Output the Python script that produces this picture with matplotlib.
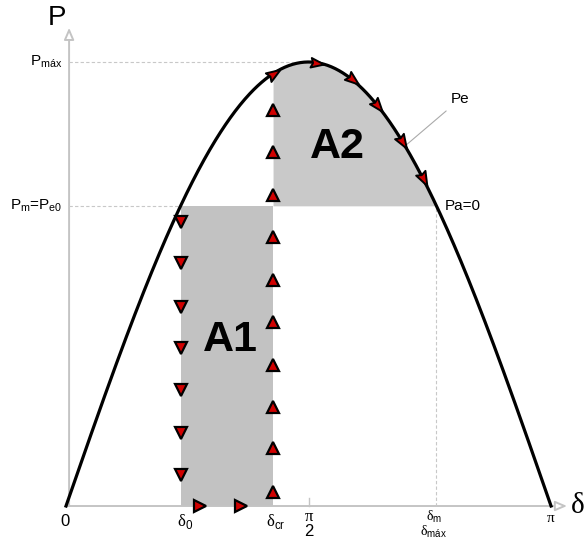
import numpy as np
import matplotlib
matplotlib.use("Agg")
import matplotlib.pyplot as plt

plt.rcParams["font.family"] = ["Liberation Sans", "DejaVu Sans"]
plt.rcParams["mathtext.fontset"] = "custom"
plt.rcParams["mathtext.rm"] = "Liberation Serif"
plt.rcParams["mathtext.sf"] = "Liberation Sans"

# Power-angle characteristic, per unit of P_max
p_max = 1.0
p_m = 0.676
delta_cr = 1.341

# Rotor swing trajectory markers
fall_p = [0.640, 0.547, 0.448, 0.356, 0.261, 0.164, 0.070]          # at delta_0, power drops
accel_delta = [0.868, 1.133]                                         # along P = 0 during the fault
rise_p = [0.032, 0.131, 0.223, 0.318, 0.414, 0.509, 0.606, 0.700,
          0.797, 0.892]                                              # at delta_cr, fault cleared
curve_delta = [1.341, 1.619, 1.852, 2.014, 2.176, 2.312]             # back on the Pe curve

delta_0 = np.arcsin(p_m / p_max)
delta_m = np.pi - delta_0

fig = plt.figure(figsize=(5.86, 5.39), dpi=100)
ax = fig.add_axes([0, 0, 1, 1])
ax.set_xlim(-0.4275, 3.368)
ax.set_ylim(-0.0743, 1.1396)
ax.axis("off")

gray_line = "#c4c4c4"

# Areas
ax.fill_between([delta_0, delta_cr], 0, p_m, color="#c2c2c2", lw=0, zorder=1)
d2 = np.linspace(delta_cr, delta_m, 300)
ax.fill_between(d2, p_m, p_max * np.sin(d2), color="#c9c9c9", lw=0, zorder=1)

# Axes with hollow arrow heads
arrow_kw = dict(arrowstyle="-|>,head_length=0.7,head_width=0.3", fc="white",
                ec=gray_line, lw=1.4, shrinkA=0, shrinkB=0)
ax.annotate("", xy=(3.245, 0), xytext=(0, 0), arrowprops=arrow_kw, zorder=2)
ax.annotate("", xy=(0.02, 1.077), xytext=(0.02, 0), arrowprops=arrow_kw, zorder=2)

# Reference dashed lines
dash = dict(color="#c8c8c8", lw=0.8, ls=(0, (3, 2)), zorder=2)
ax.plot([0.02, np.pi / 2], [p_max, p_max], **dash)
ax.plot([0.02, delta_0], [p_m, p_m], **dash)
ax.plot([delta_m, delta_m], [0, p_m], **dash)
ax.plot([np.pi / 2, np.pi / 2], [0, 0.018], color=gray_line, lw=1.0, zorder=2)

# Pe curve
d = np.linspace(0, np.pi, 500)
ax.plot(d, p_max * np.sin(d), color="black", lw=2.3, zorder=4)

# Trajectory markers
mk = dict(ls="none", mfc="#d00000", mec="black", mew=1.6, ms=8, zorder=5)
ax.plot([delta_0] * len(fall_p), fall_p, marker="v", **mk)
ax.plot(accel_delta, [0] * len(accel_delta), marker=">", **mk)
ax.plot([delta_cr] * len(rise_p), rise_p, marker="^", **mk)

# Arrow-head markers pointing along the curve
head = np.array([[1.0, 0.0], [-0.7, 0.62], [-0.45, 0.0], [-0.7, -0.62], [1.0, 0.0]])
fig.canvas.draw()
for dc in curve_delta:
    pc = p_max * np.sin(dc)
    a = ax.transData.transform((dc, pc))
    b = ax.transData.transform((dc + 1e-3, p_max * np.sin(dc + 1e-3)))
    ang = np.arctan2(b[1] - a[1], b[0] - a[0])
    rot = np.array([[np.cos(ang), -np.sin(ang)], [np.sin(ang), np.cos(ang)]])
    verts = head @ rot.T
    ax.plot([dc], [pc], marker=verts, **{**mk, "ms": 11, "mew": 1.4})

# Axis titles
ax.annotate("P", xy=(0.02, 1.077), xytext=(-9, 7), textcoords="offset points",
            ha="center", va="center", fontsize=20)
ax.annotate("δ", xy=(3.245, 0), xytext=(8, 0), textcoords="offset points",
            ha="center", va="center", fontsize=21, family="Liberation Serif")

# Vertical axis labels
ax.annotate(r"P$_\mathsf{máx}$", xy=(0.02, p_max), xytext=(-5, 0),
            textcoords="offset points", ha="right", va="center", fontsize=11)
ax.annotate(r"P$_\mathsf{m}$=P$_\mathsf{e0}$", xy=(0.02, p_m),
            xytext=(-5, 0), textcoords="offset points", ha="right", va="center",
            fontsize=11)

# Horizontal axis labels
lab = dict(textcoords="offset points", ha="center", va="center")
ax.annotate("0", xy=(0, 0), xytext=(-1, -11), fontsize=12, **lab)
ax.annotate(r"$\mathrm{δ}_{\mathsf{0}}$", xy=(delta_0, 0), xytext=(3, -11), fontsize=12, **lab)
ax.annotate(r"$\mathrm{δ}_{\mathsf{cr}}$", xy=(delta_cr, 0), xytext=(2, -11), fontsize=12, **lab)
ax.annotate("π", xy=(np.pi / 2, 0), xytext=(0, -8), fontsize=12, family="Liberation Serif", **lab)
ax.annotate("2", xy=(np.pi / 2, 0), xytext=(0, -18), fontsize=12, **lab)
ax.annotate("$\\mathrm{δ}_{\\mathsf{m}}$\n$\\mathrm{δ}_{\\mathsf{máx}}$", xy=(delta_m, 0),
            xytext=(-2, -2), textcoords="offset points", ha="center", va="top",
            multialignment="center", linespacing=0.85, fontsize=10)
ax.annotate("π", xy=(np.pi, 0), xytext=(0, -9), fontsize=11, family="Liberation Serif", **lab)

# Area labels
ax.text(1.062, 0.374, "A1", fontsize=31, fontweight="bold", ha="center", va="center", zorder=6)
ax.text(1.755, 0.809, "A2", fontsize=31, fontweight="bold", ha="center", va="center", zorder=6)

# Curve annotations
ax.annotate("Pe", xy=(2.196, p_max * np.sin(2.196)), xytext=(2.49, 0.9),
            ha="left", va="bottom", fontsize=11,
            arrowprops=dict(arrowstyle="-", color="#aaaaaa", lw=0.8, shrinkA=2, shrinkB=0))
ax.annotate("Pa=0", xy=(delta_m, p_m), xytext=(6, 0), textcoords="offset points",
            ha="left", va="center", fontsize=11)

fig.savefig("out.png", dpi=100)
